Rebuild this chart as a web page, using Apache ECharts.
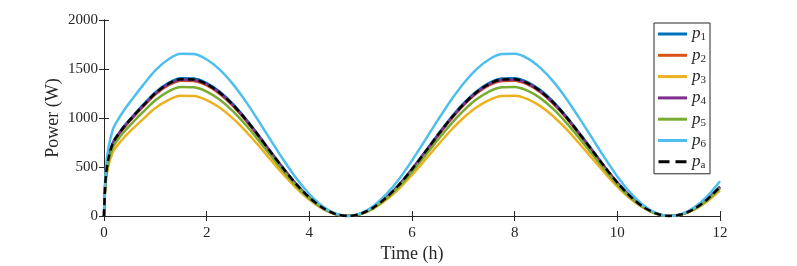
<!DOCTYPE html>
<html><head><meta charset="utf-8">
<script src="https://cdn.jsdelivr.net/npm/echarts@6/dist/echarts.min.js"></script>
<style>html,body{margin:0;padding:0;background:#fff}#c{width:797px;height:266px}</style>
</head><body><div id="c"></div>
<script>
const times = [0, 0.03, 0.08, 0.17, 0.25, 0.4, 0.6, 0.75, 1.0, 1.25, 1.5, 1.75, 2.0, 2.25, 2.5, 2.75, 3.0, 3.25, 3.5, 3.75, 4.0, 4.25, 4.5, 4.75, 5.0, 5.25, 5.5, 5.75, 6.0, 6.25, 6.5, 6.75, 7.0, 7.25, 7.5, 7.75, 8.0, 8.25, 8.5, 8.75, 9.0, 9.25, 9.5, 9.75, 10.0, 10.25, 10.5, 10.75, 11.0, 11.25, 11.5, 11.75, 12.0];
const p1 = [0, 372, 574, 746, 818, 924, 1043, 1128, 1262, 1356, 1406, 1403, 1356, 1270, 1149, 1000, 832, 656, 484, 324, 190, 87, 23, 0, 23, 87, 190, 321, 481, 653, 829, 997, 1146, 1269, 1356, 1403, 1406, 1366, 1285, 1167, 1021, 854, 681, 506, 343, 203, 96, 27, 0, 17, 75, 171, 300];
const p2 = [0, 366, 564, 733, 803, 907, 1025, 1108, 1240, 1332, 1381, 1378, 1332, 1248, 1129, 982, 817, 644, 475, 319, 187, 86, 22, 0, 22, 86, 187, 316, 472, 641, 814, 979, 1126, 1247, 1332, 1378, 1381, 1342, 1262, 1147, 1003, 839, 669, 497, 337, 199, 94, 26, 0, 17, 73, 168, 295];
const p3 = [0, 325, 501, 651, 713, 806, 910, 984, 1101, 1183, 1226, 1224, 1183, 1108, 1002, 872, 726, 572, 422, 283, 166, 76, 20, 0, 20, 76, 166, 280, 419, 569, 723, 870, 1000, 1107, 1183, 1224, 1226, 1192, 1121, 1018, 891, 745, 594, 442, 299, 177, 84, 23, 0, 15, 65, 149, 262];
const p4 = [0, 368, 568, 738, 809, 914, 1032, 1116, 1249, 1342, 1391, 1388, 1342, 1257, 1137, 989, 823, 649, 478, 321, 188, 86, 22, 0, 22, 86, 188, 318, 476, 646, 820, 986, 1134, 1256, 1342, 1388, 1391, 1352, 1271, 1155, 1010, 845, 674, 501, 339, 201, 95, 27, 0, 17, 74, 169, 297];
const p5 = [0, 348, 537, 698, 766, 865, 977, 1056, 1181, 1270, 1316, 1313, 1270, 1189, 1076, 936, 779, 614, 453, 304, 178, 82, 21, 0, 21, 82, 178, 301, 450, 611, 776, 933, 1073, 1188, 1270, 1313, 1316, 1279, 1203, 1093, 956, 800, 638, 474, 321, 190, 90, 25, 0, 16, 70, 160, 281];
const p6 = [0, 438, 676, 878, 963, 1087, 1228, 1328, 1486, 1597, 1655, 1652, 1597, 1496, 1353, 1177, 979, 772, 569, 382, 224, 103, 27, 0, 27, 103, 224, 378, 566, 769, 976, 1174, 1350, 1494, 1597, 1652, 1655, 1609, 1512, 1374, 1202, 1006, 802, 596, 403, 239, 113, 32, 0, 20, 88, 201, 354];
const pa = [0, 370, 570, 741, 812, 917, 1036, 1120, 1253, 1347, 1396, 1393, 1347, 1261, 1141, 993, 826, 651, 480, 322, 189, 87, 22, 0, 22, 87, 189, 319, 477, 648, 823, 990, 1138, 1260, 1347, 1393, 1396, 1357, 1275, 1159, 1014, 848, 676, 503, 340, 202, 95, 27, 0, 17, 74, 169, 298];
const xTicks = [0, 2, 4, 6, 8, 10, 12];
const yTicks = [0, 500, 1000, 1500, 2000];

const names = ['p1','p2','p3','p4','p5','p6','pa'];
const subs = {p1:'1',p2:'2',p3:'3',p4:'4',p5:'5',p6:'6',pa:'a'};
const colors = ['#0072BD','#D95319','#EDB120','#7E2F8E','#77AC30','#4DBEEE','#000000'];
const values = [p1,p2,p3,p4,p5,p6,pa];
const FONT = 'Liberation Serif';
const AX = '#262626';

const series = names.map((n,i)=>({
  name:n, type:'line', smooth:0.3, symbol:'none', xAxisIndex:0, yAxisIndex:0,
  data: times.map((t,j)=>[t, values[i][j]]),
  lineStyle:{color:colors[i], width:2.5, type: n==='pa' ? [7,4] : 'solid'},
  itemStyle:{color:colors[i]},
  z: 2+i
}));

const chart = echarts.init(document.getElementById('c'), null, {renderer:'canvas'});
chart.setOption({
  animation:false,
  grid:{left:104, right:77, top:20, bottom:50, outerBoundsMode:'none', containLabel:false},
  xAxis:[{
    type:'value', min:0, max:12, interval:2,
    name:'Time (h)', nameLocation:'middle', nameGap:29, nameMoveOverlap:false,
    nameTextStyle:{fontFamily:FONT, fontSize:18, color:AX},
    axisLine:{lineStyle:{color:AX, width:1}},
    axisTick:{inside:true, length:5, lineStyle:{color:AX}},
    axisLabel:{fontFamily:FONT, fontSize:15, color:AX, margin:10,
      formatter:v=>xTicks.includes(v)?String(v):''},
    splitLine:{show:false}
  },{
    type:'value', min:0, max:12, interval:2, position:'top',
    axisLine:{show:true, lineStyle:{color:AX, width:1}},
    axisTick:{inside:true, length:5, lineStyle:{color:AX}},
    axisLabel:{show:false}, splitLine:{show:false}
  }],
  yAxis:[{
    type:'value', min:0, max:2000, interval:500,
    name:'Power (W)', nameLocation:'middle', nameGap:42, nameMoveOverlap:false,
    nameTextStyle:{fontFamily:FONT, fontSize:18, color:AX},
    axisLine:{show:true, lineStyle:{color:AX, width:1}},
    axisTick:{show:true, inside:true, length:5, lineStyle:{color:AX}},
    axisLabel:{fontFamily:FONT, fontSize:15, color:AX, margin:6,
      formatter:v=>yTicks.includes(v)?String(v):''},
    splitLine:{show:false}
  },{
    type:'value', min:0, max:2000, interval:500, position:'right',
    axisLine:{show:true, lineStyle:{color:AX, width:1}},
    axisTick:{show:true, inside:true, length:5, lineStyle:{color:AX}},
    axisLabel:{show:false}, splitLine:{show:false}
  }],
  legend:{
    orient:'vertical', right:87, top:23,
    data:names.map(n=>({name:n, icon: n==='pa' ? 'path://M0,0h11v3h-11zM17,0h11v3h-11z' : 'rect'})),
    itemWidth:29, itemHeight:3, itemGap:3.3,
    padding:[2,4,3,4],
    borderColor:AX, borderWidth:1, backgroundColor:'#fff',
    formatter:n=>'{i|p}{s|'+subs[n]+'}',
    textStyle:{
      rich:{
        i:{fontFamily:FONT, fontStyle:'italic', fontSize:17, color:AX, lineHeight:14},
        s:{fontFamily:FONT, fontSize:11, color:AX, lineHeight:14, padding:[7,0,0,0]}
      }
    }
  },
  series
});
</script></body></html>
